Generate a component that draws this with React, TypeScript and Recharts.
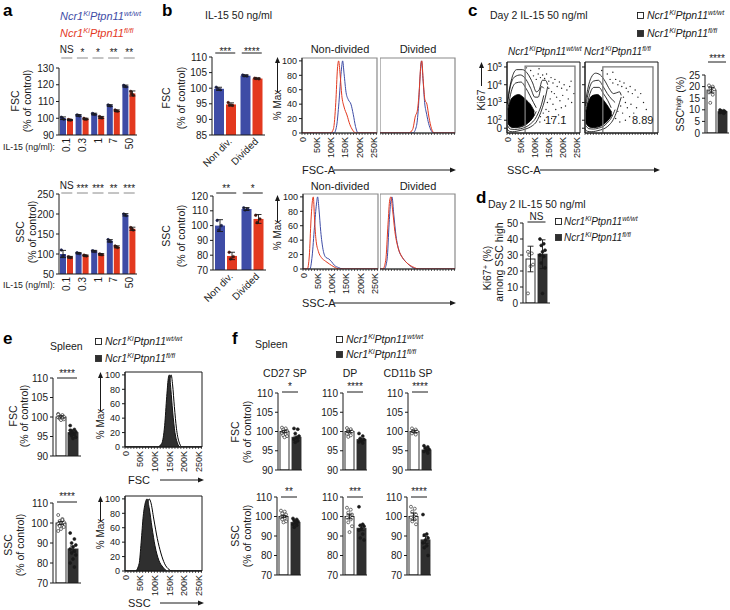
import React from 'react';
import { BarChart, Bar, XAxis, YAxis, ErrorBar, ComposedChart, Line, Area, Scatter, ReferenceArea } from 'recharts';

const FONT = '"Liberation Sans", Arial, Helvetica, sans-serif';
const BLUE = '#3e4ca6';
const RED = '#e3391f';
const DARK = '#2f2f2f';
const INK = '#1a1a1a';

// ---- a: IL-15 titration ----
const aConc = ['0.1', '0.3', '1', '7', '50'];
const aFscWt = [100, 101.7, 102.5, 107.6, 119.2];
const aFscFl = [99, 99.6, 100.5, 104.5, 114.8];
const aFscWtErr = [0.8, 0.5, 0.5, 0.5, 0.6];
const aFscFlErr = [0.3, 0.4, 0.6, 0.5, 1.5];
const aFscSig = ['NS', '*', '*', '**', '**'];
const aFscWtDots = [[100.6, 99.4, 100], [101.9, 101.4, 101.8], [102.8, 102.2, 102.5], [107.9, 107.3, 107.6], [119.6, 118.8, 119.1]];
const aFscFlDots = [[99.2, 98.9, 99], [99.9, 99.4, 99.5], [101, 100.2, 100.4], [104.9, 104.2, 104.4], [116, 113.8, 114.6]];
const aSscWt = [100, 102, 107, 133, 198];
const aSscFl = [92, 96, 99, 118, 163];
const aSscWtErr = [9, 1.5, 2, 3, 3];
const aSscFlErr = [2, 1.5, 2, 2.5, 4];
const aSscSig = ['NS', '***', '***', '**', '***'];
const aSscWtDots = [[110, 96, 94], [103, 101, 102], [108, 106, 107], [136, 131, 132], [200, 196, 198]];
const aSscFlDots = [[93, 91, 92], [97, 95, 96], [100, 98, 99], [120, 116, 118], [166, 160, 163]];

// ---- b: 50 ng/ml, non-divided vs divided ----
const bCats = ['Non div.', 'Divided'];
const bFscWt = [99.8, 104];
const bFscFl = [94.8, 103.1];
const bFscWtErr = [0.5, 0.3];
const bFscFlErr = [0.5, 0.2];
const bFscSig = ['***', '****'];
const bFscWtDots = [[100.3, 99.5, 99.7], [104.2, 103.9, 104]];
const bFscFlDots = [[95.4, 94.5, 94.6], [103.2, 103, 103.1]];
const bSscWt = [100, 111.2];
const bSscFl = [79.5, 104.5];
const bSscWtErr = [4, 1];
const bSscFlErr = [2.5, 3];
const bSscSig = ['**', '*'];
const bSscWtDots = [[103.5, 100, 97], [112, 111, 110.5]];
const bSscFlDots = [[82, 79, 77.5], [107, 104.5, 102]];

// histograms: [FSC/SSC-A in K, % max]
const bFscNdRed = [[0, 0], [100, 0], [110, 6], [118, 42], [124, 90], [128, 100], [133, 82], [139, 52], [147, 36], [157, 25], [167, 12], [177, 4], [188, 0], [262, 0]];
const bFscNdBlue = [[0, 0], [112, 0], [121, 10], [129, 42], [137, 85], [142, 100], [147, 82], [154, 56], [162, 46], [171, 40], [179, 26], [187, 9], [196, 0], [262, 0]];
const bFscDivRed = [[0, 0], [100, 0], [114, 5], [124, 24], [130, 30], [137, 58], [142, 92], [146, 100], [151, 72], [157, 46], [164, 40], [171, 22], [180, 6], [190, 0], [262, 0]];
const bFscDivBlue = [[0, 0], [115, 0], [127, 9], [134, 34], [140, 78], [145, 100], [150, 76], [156, 42], [163, 26], [170, 13], [178, 4], [188, 0], [262, 0]];
const bSscNdRed = [[0, 0], [15, 0], [22, 18], [28, 68], [33, 95], [36, 100], [40, 72], [45, 42], [54, 24], [64, 16], [78, 11], [92, 7], [108, 3], [128, 0], [262, 0]];
const bSscNdBlue = [[0, 0], [24, 0], [32, 18], [40, 58], [47, 90], [51, 100], [56, 82], [62, 52], [70, 27], [80, 16], [90, 14], [100, 10], [110, 5], [124, 2], [140, 0], [262, 0]];
const bSscDivRed = [[0, 0], [10, 0], [20, 12], [28, 62], [34, 96], [38, 100], [44, 82], [52, 52], [62, 31], [75, 18], [90, 10], [105, 5], [120, 2], [135, 0], [262, 0]];
const bSscDivBlue = [[0, 0], [15, 0], [25, 14], [32, 64], [38, 95], [42, 100], [48, 76], [56, 46], [66, 26], [80, 15], [95, 8], [110, 3], [130, 0], [262, 0]];

// ---- c: Ki67 vs SSC-A contours [SSC-A K, low decade, high decade] ----
const cWtOuter = [[0, 1.5, 2.9], [8, 1.38, 3.7], [20, 1.35, 4.5], [35, 1.38, 4.85], [55, 1.45, 4.85], [75, 1.55, 4.6], [92, 1.7, 4.1], [105, 1.9, 3.6], [115, 2.2, 3.7], [127, 2.7, 4.25], [138, 3.3, 4.25], [146, 3.9, 4.0]];
const cWtMid = [[2, 1.7, 2.9], [12, 1.5, 3.9], [28, 1.48, 4.45], [48, 1.52, 4.55], [68, 1.62, 4.3], [85, 1.8, 3.8], [100, 2.05, 3.3], [112, 2.4, 3.3], [124, 2.9, 3.9], [132, 3.4, 3.8]];
const cWtInner = [[5, 1.8, 2.8], [15, 1.6, 3.6], [32, 1.58, 4.1], [50, 1.62, 4.15], [68, 1.75, 3.8], [82, 1.95, 3.4], [95, 2.2, 3.0], [105, 2.5, 2.7]];
const cWtBlob = [[3, 1.85, 2.6], [12, 1.65, 3.1], [25, 1.6, 3.35], [42, 1.62, 3.45], [58, 1.7, 3.3], [72, 1.82, 3.1], [86, 2.0, 2.85], [98, 2.3, 2.5]];
const cFlOuter = [[0, 1.5, 2.8], [8, 1.38, 3.6], [22, 1.35, 4.4], [38, 1.38, 4.65], [55, 1.45, 4.55], [72, 1.55, 4.2], [88, 1.75, 3.75], [102, 2.05, 3.5], [114, 2.5, 3.55], [124, 3.0, 3.6], [130, 3.3, 3.4]];
const cFlMid = [[3, 1.7, 2.8], [14, 1.52, 3.7], [30, 1.5, 4.2], [48, 1.55, 4.25], [65, 1.65, 3.9], [80, 1.85, 3.5], [95, 2.15, 3.2], [108, 2.6, 3.0]];
const cFlInner = [[6, 1.8, 2.7], [16, 1.62, 3.4], [32, 1.58, 3.85], [50, 1.63, 3.85], [66, 1.76, 3.5], [82, 2.0, 3.1], [94, 2.3, 2.7]];
const cFlBlob = [[3, 1.85, 2.5], [14, 1.65, 3.1], [28, 1.6, 3.4], [45, 1.63, 3.45], [60, 1.72, 3.25], [75, 1.88, 2.95], [88, 2.1, 2.65], [96, 2.3, 2.45]];
const cWtEvents = [[95, 4.5], [105, 4.3], [112, 4.6], [120, 4.4], [128, 4.55], [135, 4.35], [142, 4.6], [150, 4.2], [158, 4.4], [165, 4.1], [172, 4.3], [180, 3.9], [188, 4.15], [196, 3.8], [205, 4.0], [215, 3.7], [225, 3.9], [150, 3.8], [160, 3.6], [170, 3.5], [155, 3.2], [165, 2.9], [178, 3.3], [190, 3.1], [200, 3.4], [210, 2.8], [220, 3.2], [232, 3.0], [145, 3.0], [140, 2.6], [130, 2.4], [120, 2.2], [150, 2.5], [175, 2.6], [185, 2.3], [195, 2.7], [118, 1.9], [135, 2.0], [160, 2.1], [205, 2.2], [85, 4.8], [70, 4.95], [115, 4.9], [240, 3.5], [230, 4.2]];
const cFlEvents = [[90, 4.3], [100, 4.1], [110, 4.3], [118, 4.0], [125, 4.2], [132, 3.9], [140, 4.1], [148, 3.8], [155, 3.6], [162, 3.9], [170, 3.5], [180, 3.7], [190, 3.3], [200, 3.5], [138, 3.3], [145, 3.0], [128, 2.8], [118, 2.5], [135, 2.4], [152, 2.7], [165, 2.9], [175, 2.4], [185, 2.7], [110, 2.1], [125, 1.9], [145, 2.0], [160, 2.2], [80, 4.6], [60, 4.8], [210, 3.0], [220, 2.6], [100, 4.7]];
const cWtGate = [[65, 1.28], [65, 5.05], [244, 5.05], [244, 1.28]];
const cFlGate = [[64, 1.28], [64, 5.0], [244, 5.0], [244, 1.28]];
const decTicks = [1.55, 2, 3, 4, 5];
const decLabels = ['0', '2', '3', '4', '5'];
const cHiCats = ['SSC high'];
const cHiWt = [18.5];
const cHiFl = [9.2];
const cHiWtErr = [1.2];
const cHiFlErr = [0.4];
const cHiSig = ['****'];
const cHiWtDots = [[20.5, 20, 19.5, 18.8, 18.3, 17.5, 16.5, 13]];
const cHiFlDots = [[9.9, 9.6, 9.5, 9.2, 9, 8.8, 8.5]];

// ---- d: Ki67+ among SSC high ----
const dWt = [27.5];
const dFl = [30.5];
const dWtErr = [8];
const dFlErr = [9];
const dSig = ['NS'];
const dWtDots = [[32, 31, 30, 24, 23, 6]];
const dFlDots = [[40, 37, 36, 33, 32, 30, 29, 25, 22, 6]];

// ---- e: spleen ----
const eFscWt = [100];
const eFscFl = [96];
const eFscWtErr = [0.3];
const eFscFlErr = [0.4];
const eFscSig = ['****'];
const eFscWtDots = [[100.8, 100.5, 100.3, 100.1, 100, 99.9, 99.8, 99.6, 99.4, 99.2, 100.6, 99.7]];
const eFscFlDots = [[97.8, 96.8, 96.5, 96.2, 96, 95.8, 95.5, 95.2, 94.8, 94.5, 96.6]];
const eSscWt = [100];
const eSscFl = [87];
const eSscWtErr = [0.8];
const eSscFlErr = [1.5];
const eSscSig = ['****'];
const eSscWtDots = [[104, 102, 101, 100.5, 100, 99.5, 99, 98.5, 98, 97, 96, 101.5]];
const eSscFlDots = [[95, 92, 90, 89, 88, 87, 86, 85, 84, 82, 80, 78]];
const eFscFlHist = [[0, 0], [110, 0], [125, 5], [135, 30], [142, 70], [148, 97], [151, 100], [156, 80], [162, 50], [170, 20], [178, 6], [188, 0], [262, 0]];
const eFscWtHist = [[0, 0], [115, 0], [130, 5], [140, 30], [147, 70], [153, 95], [157, 100], [162, 86], [168, 56], [175, 26], [183, 8], [195, 0], [262, 0]];
const eSscFlHist = [[0, 0], [35, 0], [48, 10], [55, 40], [62, 76], [70, 96], [75, 100], [82, 88], [92, 60], [102, 35], [115, 15], [130, 5], [145, 0], [262, 0]];
const eSscWtHist = [[0, 0], [40, 0], [52, 8], [60, 35], [68, 70], [76, 92], [82, 100], [88, 95], [98, 72], [110, 45], [122, 25], [135, 10], [150, 2], [160, 0], [262, 0]];

// ---- f: spleen subsets ----
const fSubsets = ['CD27 SP', 'DP', 'CD11b SP'];
const fFscWt = [100, 100, 100];
const fFscFl = [98.5, 97.9, 95.2];
const fFscErr = [0.3, 0.3, 0.3];
const fFscSig = ['*', '****', '****'];
const fFscWtDots = [[101, 100.8, 100.5, 100.2, 100, 99.6, 99.3, 99, 98.8, 98.5], [100.9, 100.6, 100.3, 100, 99.7, 99.4, 99, 98.6], [100.8, 100.5, 100.2, 100, 99.8, 99.5, 99.2]];
const fFscFlDots = [[100.8, 100.6, 99.5, 98.8, 98.4, 98, 97.6, 97.2], [99.5, 98.8, 98.2, 97.9, 97.6, 97.3, 97], [96.3, 96, 95.7, 95.4, 95.1, 94.8, 94.4]];
const fSscWt = [100, 100, 100];
const fSscFl = [97, 94, 88];
const fSscErr = [0.6, 1.2, 1.8];
const fSscSig = ['**', '***', '****'];
const fSscWtDots = [[103, 102.5, 101.5, 101, 100, 99.5, 99, 98.5, 97.5, 97], [104.5, 103.5, 102, 101, 100, 99.5, 98.5, 97, 95, 92], [105, 104, 102.5, 101, 100, 99.5, 98.5, 97.5, 96]];
const fSscFlDots = [[99, 98.5, 98, 97.5, 97, 96, 95.5, 94.5], [105, 96, 95.5, 95, 94, 93, 91, 89, 88], [101, 91, 90.5, 89, 88, 86.5, 85, 84, 80]];

const histTicks = [0, 10, 20, 30, 40, 50, 60, 70, 80, 90, 100, 110, 120, 130, 140, 150, 160, 170, 180, 190, 200, 210, 220, 230, 240, 250, 260];
const pctTicks = [0, 20, 40, 60, 80, 100];

const pts = (a: number[][]) => a.map(([x, y]) => ({ x, y }));
const rng = (a: number[][]) => a.map(([x, lo, hi]) => ({ x, r: [lo, hi] }));

function groupsOf(cats: string[], wt: number[], fl: number[], wtErr: number[], flErr: number[], sig: string[], wtDots: number[][], flDots: number[][]) {
  return cats.map((c, i) => ({ c, wt: wt[i], fl: fl[i], wtErr: wtErr[i], flErr: flErr[i], sig: sig[i], wtDots: wtDots[i], flDots: flDots[i] }));
}

const DotBar = (s: any) => {
  const { x, y, width, height, barFill, barStroke, val, min, dots, dotFill, dotStroke, r } = s;
  if (!width || height == null) return null;
  const ppu = val > min ? height / (val - min) : 0;
  const cx = x + width / 2;
  return (
    <g>
      <rect x={x} y={y} width={width} height={height} fill={barFill} stroke={barStroke} strokeWidth={barStroke === 'none' ? 0 : 0.9} />
      {dots.map((d: number, i: number) => {
        const off = (((i * 3) % 5) - 2) * width * 0.14;
        return <circle key={i} cx={cx + off} cy={y + (val - d) * ppu} r={r} fill={dotFill} stroke={dotStroke} strokeWidth={0.6} />;
      })}
    </g>
  );
};

function BarPanel(p: any) {
  const yW = 30, topH = 26, rm = 4;
  const botH = p.botH ?? 8;
  const lineOff = p.lineOff ?? 1;
  const textOff = p.textOff ?? 2;
  const sigW = p.sigW ?? 16;
  const min = p.domain[0];
  const data = p.groups;
  const sigTick = (t: any) => {
    const g = data.find((d: any) => d.c === t.payload.value);
    if (!g || !g.sig) return <g />;
    const ly = t.y - lineOff;
    return (
      <g>
        <line x1={t.x - sigW / 2} x2={t.x + sigW / 2} y1={ly} y2={ly} stroke={p.sigColor ?? INK} strokeWidth={1} />
        <text x={t.x} y={t.y - textOff - (g.sig === 'NS' ? 3 : 0)} textAnchor="middle" fontSize={10} fill={INK}>{g.sig}</text>
      </g>
    );
  };
  let xTick: any = false;
  if (p.xLabels === 'rot90') {
    xTick = (t: any) => (
      <text x={t.x} y={t.y} dy={3.5} textAnchor="end" fontSize={10} fill={INK} transform={`rotate(-90 ${t.x} ${t.y})`}>{t.payload.value}</text>
    );
  } else if (p.xLabels === 'rot45') {
    xTick = (t: any) => (
      <text x={t.x + 5} y={t.y + 2} dy={3} textAnchor="end" fontSize={10} fill={INK} transform={`rotate(-45 ${t.x + 5} ${t.y + 2})`}>{t.payload.value}</text>
    );
  }
  const wtStroke = p.wtStroke ?? 'none';
  const flStroke = p.flStroke ?? 'none';
  return (
    <div style={{ position: 'absolute', left: p.left - yW, top: p.top - topH }}>
      <BarChart width={yW + p.pw + rm} height={topH + p.ph + botH} data={data} margin={{ top: 0, right: rm, bottom: 0, left: 0 }} barGap={p.barGap} barCategoryGap={0}>
        <XAxis dataKey="c" type="category" height={botH} axisLine={{ stroke: INK }} tickLine={false} tickSize={0} tickMargin={3} interval={0} tick={xTick} />
        <XAxis xAxisId="sig" dataKey="c" type="category" orientation="top" height={topH} axisLine={false} tickLine={false} tickSize={0} tickMargin={0} interval={0} tick={sigTick} />
        <YAxis type="number" domain={p.domain} ticks={p.ticks} interval={0} allowDataOverflow width={yW} tickSize={3} tickMargin={2} axisLine={{ stroke: INK }} tickLine={{ stroke: INK }} tick={{ fontSize: 10, fill: INK }} />
        <Bar dataKey="wt" barSize={p.barSize} fill={p.wtFill} isAnimationActive={false}
          shape={(s: any) => <DotBar {...s} barFill={p.wtFill} barStroke={wtStroke} val={s.payload.wt} min={min} dots={s.payload.wtDots} dotFill={p.wtDot[0]} dotStroke={p.wtDot[1]} r={p.r ?? 1.5} />}>
          <ErrorBar dataKey="wtErr" width={3} stroke={INK} strokeWidth={0.9} />
        </Bar>
        <Bar dataKey="fl" barSize={p.barSize} fill={p.flFill} isAnimationActive={false}
          shape={(s: any) => <DotBar {...s} barFill={p.flFill} barStroke={flStroke} val={s.payload.fl} min={min} dots={s.payload.flDots} dotFill={p.flDot[0]} dotStroke={p.flDot[1]} r={p.r ?? 1.5} />}>
          <ErrorBar dataKey="flErr" width={3} stroke={INK} strokeWidth={0.9} />
        </Bar>
      </BarChart>
    </div>
  );
}

const kTick = (t: any) => {
  const v = t.payload.value;
  if (v % 50 !== 0) return <g />;
  const lab = v === 0 ? '0' : `${v}K`;
  return <text x={t.x} y={t.y} dy={3.5} textAnchor="end" fontSize={9} fill={INK} transform={`rotate(-90 ${t.x} ${t.y})`}>{lab}</text>;
};
const emptyTick = () => <g />;

function HistPanel(p: any) {
  const yLabels = p.yLabels ?? true;
  const xLabels = p.xLabels ?? true;
  const yW = yLabels ? 24 : 0;
  const botH = xLabels ? 30 : 4;
  return (
    <div style={{ position: 'absolute', left: p.left - yW, top: p.top - 6 }}>
      <ComposedChart width={yW + p.pw + 3} height={6 + p.ph + botH} margin={{ top: 6, right: 3, bottom: 0, left: 0 }}>
        <XAxis type="number" dataKey="x" domain={[0, 262]} ticks={histTicks} interval={0} allowDataOverflow height={botH}
          tickSize={2} tickMargin={2} axisLine={{ stroke: INK }} tickLine={{ stroke: INK, strokeWidth: 0.7 }} tick={xLabels ? kTick : emptyTick} />
        <YAxis type="number" dataKey="y" domain={[0, 104]} ticks={pctTicks} interval={0} allowDataOverflow width={yW} hide={!yLabels}
          tickSize={3} tickMargin={2} axisLine={{ stroke: INK }} tickLine={{ stroke: INK }} tick={{ fontSize: 9, fill: INK }} />
        {(p.areas || []).map((a: any, i: number) => (
          <Area key={'a' + i} data={pts(a.data)} dataKey="y" type="monotone" fill={a.fill} fillOpacity={1} stroke={a.stroke} strokeWidth={1} dot={false} activeDot={false} isAnimationActive={false} />
        ))}
        {(p.lines || []).map((l: any, i: number) => (
          <Line key={'l' + i} data={pts(l.data)} dataKey="y" type="monotone" stroke={l.stroke} strokeWidth={1} dot={false} activeDot={false} isAnimationActive={false} />
        ))}
        <ReferenceArea x1={0} x2={262} y1={0} y2={104} fill="none" stroke={p.box ?? '#8a8a8a'} strokeWidth={p.boxW ?? 1.2} />
      </ComposedChart>
    </div>
  );
}

const decTick = (t: any) => {
  const i = decTicks.indexOf(t.payload.value);
  const lab = decLabels[i];
  if (lab === '0') return <text x={t.x} y={t.y} dy={3.5} textAnchor="end" fontSize={10} fill={INK}>0</text>;
  return (
    <text x={t.x} y={t.y} dy={4} textAnchor="end" fontSize={10} fill={INK}>
      10<tspan dy={-4} fontSize={7}>{lab}</tspan>
    </text>
  );
};

function ContourPanel(p: any) {
  const yW = p.yLabels ? 26 : 4;
  const botH = p.xLabels ? 30 : 4;
  return (
    <div style={{ position: 'absolute', left: p.left - yW, top: p.top - 6 }}>
      <ComposedChart width={yW + p.pw + 3} height={6 + p.ph + botH} margin={{ top: 6, right: 3, bottom: 0, left: 0 }}>
        <XAxis type="number" dataKey="x" domain={[0, 262]} ticks={histTicks} interval={0} allowDataOverflow height={botH}
          tickSize={2} tickMargin={2} axisLine={{ stroke: INK }} tickLine={{ stroke: INK, strokeWidth: 0.7 }} tick={p.xLabels ? kTick : emptyTick} />
        <YAxis type="number" dataKey="y" domain={[1.28, 5.28]} ticks={decTicks} interval={0} allowDataOverflow width={yW}
          tickSize={3} tickMargin={2} axisLine={{ stroke: INK }} tickLine={{ stroke: INK }} tick={p.yLabels ? decTick : emptyTick} />
        <Scatter data={pts(p.events)} fill="#000" isAnimationActive={false} shape={(s: any) => <circle cx={s.cx} cy={s.cy} r={0.7} fill="#222" />} />
        {p.outlines.map((o: number[][], i: number) => (
          <Area key={'o' + i} data={rng(o)} dataKey="r" type="monotone" fill="none" stroke="#000" strokeWidth={0.8} dot={false} activeDot={false} isAnimationActive={false} />
        ))}
        <Area data={rng(p.blob)} dataKey="r" type="monotone" fill="#000" fillOpacity={1} stroke="#000" strokeWidth={0.8} dot={false} activeDot={false} isAnimationActive={false} />
        <Line data={pts(p.gate)} dataKey="y" type="linear" stroke="#7a7a7a" strokeWidth={1.3} dot={false} activeDot={false} isAnimationActive={false} />
        <ReferenceArea x1={0} x2={262} y1={1.28} y2={5.28} fill="none" stroke={INK} strokeWidth={1} />
      </ComposedChart>
    </div>
  );
}

const VText = ({ x, y, size = 10.5, children }: any) => (
  <text x={x} y={y} fontSize={size} textAnchor="middle" fill={INK} transform={`rotate(-90 ${x} ${y})`}>{children}</text>
);

const Geno = ({ x, y, sup, size = 10.5, fill = INK }: any) => (
  <text x={x} y={y} fontSize={size} fontStyle="italic" fill={fill}>
    Ncr1<tspan dy={-size * 0.38} fontSize={size * 0.68}>Ki</tspan><tspan dy={size * 0.38} fontSize={size}>Ptpn11</tspan><tspan dy={-size * 0.38} fontSize={size * 0.68}>{sup}</tspan>
  </text>
);

const UpArrow = ({ x, y1, y2 }: any) => (
  <g>
    <line x1={x} x2={x} y1={y1} y2={y2 + 4} stroke={INK} strokeWidth={1} />
    <polygon points={`${x - 2.5},${y2 + 6} ${x + 2.5},${y2 + 6} ${x},${y2}`} fill={INK} />
  </g>
);

const RightArrow = ({ y, x1, x2 }: any) => (
  <g>
    <line x1={x1} x2={x2 - 4} y1={y} y2={y} stroke={INK} strokeWidth={1} />
    <polygon points={`${x2 - 6},${y - 2.5} ${x2 - 6},${y + 2.5} ${x2},${y}`} fill={INK} />
  </g>
);

const Letter = ({ x, y, c }: any) => <text x={x} y={y} fontSize={17} fontWeight="bold" fill="#000">{c}</text>;

export default function App() {
  const aFsc = groupsOf(aConc, aFscWt, aFscFl, aFscWtErr, aFscFlErr, aFscSig, aFscWtDots, aFscFlDots);
  const aSsc = groupsOf(aConc, aSscWt, aSscFl, aSscWtErr, aSscFlErr, aSscSig, aSscWtDots, aSscFlDots);
  const bFsc = groupsOf(bCats, bFscWt, bFscFl, bFscWtErr, bFscFlErr, bFscSig, bFscWtDots, bFscFlDots);
  const bSsc = groupsOf(bCats, bSscWt, bSscFl, bSscWtErr, bSscFlErr, bSscSig, bSscWtDots, bSscFlDots);
  const cHi = groupsOf(cHiCats, cHiWt, cHiFl, cHiWtErr, cHiFlErr, cHiSig, cHiWtDots, cHiFlDots);
  const dKi = groupsOf(['Ki67'], dWt, dFl, dWtErr, dFlErr, dSig, dWtDots, dFlDots);
  const eFsc = groupsOf(['FSC'], eFscWt, eFscFl, eFscWtErr, eFscFlErr, eFscSig, eFscWtDots, eFscFlDots);
  const eSsc = groupsOf(['SSC'], eSscWt, eSscFl, eSscWtErr, eSscFlErr, eSscSig, eSscWtDots, eSscFlDots);

  const bw = { wtFill: '#ffffff', wtStroke: INK, flFill: DARK, flStroke: DARK, wtDot: ['#ffffff', INK], flDot: [INK, INK], r: 1.5 };
  const colored = { wtFill: BLUE, flFill: RED, wtDot: ['#1c2250', '#1c2250'], flDot: ['#4d150c', '#4d150c'], r: 1.3 };
  const fFscLefts = [278, 343, 408];
  const fSscLefts = [277, 343, 407];

  return (
    <div style={{ position: 'absolute', left: 0, top: 0, width: 730, height: 610, background: '#fff', fontFamily: FONT, overflow: 'hidden' }}>
      {/* a */}
      <BarPanel left={59} top={68} pw={78} ph={67} domain={[90, 130]} ticks={[90, 100, 110, 120, 130]} groups={aFsc} barSize={6} barGap={1}
        {...colored} xLabels="rot90" botH={26} lineOff={10} textOff={12} sigW={11} sigColor="#8a8a8a" />
      <BarPanel left={59} top={194} pw={78} ph={80} domain={[50, 250]} ticks={[50, 100, 150, 200, 250]} groups={aSsc} barSize={6} barGap={1}
        {...colored} xLabels="rot90" botH={26} lineOff={1} textOff={2} sigW={11} sigColor="#8a8a8a" />

      {/* b */}
      <BarPanel left={212} top={57} pw={53} ph={78} domain={[85, 110]} ticks={[85, 90, 95, 100, 105, 110]} groups={bFsc} barSize={10} barGap={2}
        {...colored} xLabels="rot45" botH={44} lineOff={4} textOff={2} sigW={20} />
      <BarPanel left={213} top={196} pw={53} ph={74} domain={[70, 120]} ticks={[70, 80, 90, 100, 110, 120]} groups={bSsc} barSize={10} barGap={2}
        {...colored} xLabels="rot45" botH={44} lineOff={3} textOff={4} sigW={20} />
      <HistPanel left={302} top={58} pw={75} ph={75} lines={[{ data: bFscNdBlue, stroke: BLUE }, { data: bFscNdRed, stroke: RED }]} />
      <HistPanel left={380} top={58} pw={75} ph={75} yLabels={false} xLabels={false} lines={[{ data: bFscDivBlue, stroke: BLUE }, { data: bFscDivRed, stroke: RED }]} />
      <HistPanel left={303} top={194} pw={75} ph={75} lines={[{ data: bSscNdBlue, stroke: BLUE }, { data: bSscNdRed, stroke: RED }]} />
      <HistPanel left={380} top={194} pw={75} ph={75} yLabels={false} xLabels={false} lines={[{ data: bSscDivBlue, stroke: BLUE }, { data: bSscDivRed, stroke: RED }]} />

      {/* c */}
      <ContourPanel left={507} top={62} pw={73} ph={71} yLabels xLabels outlines={[cWtOuter, cWtMid, cWtInner]} blob={cWtBlob} events={cWtEvents} gate={cWtGate} />
      <ContourPanel left={585} top={62} pw={73} ph={71} yLabels={false} xLabels={false} outlines={[cFlOuter, cFlMid, cFlInner]} blob={cFlBlob} events={cFlEvents} gate={cFlGate} />
      <BarPanel left={705} top={75} pw={24} ph={58} domain={[0, 25]} ticks={[0, 5, 10, 15, 20, 25]} groups={cHi} barSize={9} barGap={2}
        {...bw} lineOff={13} textOff={13} sigW={18} />

      {/* d */}
      <BarPanel left={523} top={223} pw={27} ph={80} domain={[0, 50]} ticks={[0, 10, 20, 30, 40, 50]} groups={dKi} barSize={9} barGap={3}
        {...bw} lineOff={1} textOff={0} sigW={18} />

      {/* e */}
      <BarPanel left={53} top={378} pw={28} ph={78} domain={[90, 110]} ticks={[90, 95, 100, 105, 110]} groups={eFsc} barSize={10} barGap={2}
        {...bw} lineOff={0} textOff={1} sigW={20} />
      <BarPanel left={53} top={503} pw={28} ph={80} domain={[70, 110]} ticks={[70, 80, 90, 100, 110]} groups={eSsc} barSize={10} barGap={2}
        {...bw} lineOff={1} textOff={3} sigW={20} />
      <HistPanel left={125} top={372} pw={77} ph={75} box={INK} boxW={1}
        areas={[{ data: eFscWtHist, fill: '#ffffff', stroke: '#000' }, { data: eFscFlHist, fill: DARK, stroke: '#111' }]} />
      <HistPanel left={125} top={496} pw={77} ph={75} box={INK} boxW={1}
        areas={[{ data: eSscWtHist, fill: '#ffffff', stroke: '#000' }, { data: eSscFlHist, fill: DARK, stroke: '#111' }]} />

      {/* f */}
      {fSubsets.map((s, i) => (
        <BarPanel key={'ff' + s} left={fFscLefts[i]} top={393} pw={24} ph={77} domain={[90, 110]} ticks={[90, 95, 100, 105, 110]}
          groups={groupsOf([s], [fFscWt[i]], [fFscFl[i]], [fFscErr[i]], [fFscErr[i]], [fFscSig[i]], [fFscWtDots[i]], [fFscFlDots[i]])}
          barSize={9} barGap={3} {...bw} lineOff={1} textOff={3} sigW={16} />
      ))}
      {fSubsets.map((s, i) => (
        <BarPanel key={'fs' + s} left={fSscLefts[i]} top={497} pw={24} ph={78} domain={[70, 110]} ticks={[70, 80, 90, 100, 110]}
          groups={groupsOf([s], [fSscWt[i]], [fSscFl[i]], [fSscErr[i]], [fSscErr[i]], [fSscSig[i]], [fSscWtDots[i]], [fSscFlDots[i]])}
          barSize={9} barGap={3} {...bw} lineOff={0} textOff={2} sigW={16} />
      ))}

      <svg width={730} height={610} style={{ position: 'absolute', left: 0, top: 0, pointerEvents: 'none' }} fontFamily={FONT}>
        {/* a */}
        <Letter x={3} y={16} c="a" />
        <Geno x={60} y={20} sup="wt/wt" size={11} fill={BLUE} />
        <Geno x={60} y={37} sup="fl/fl" size={11} fill={RED} />
        <VText x={19} y={101}>FSC</VText>
        <VText x={31} y={101}>(% of control)</VText>
        <VText x={24} y={232}>SSC</VText>
        <VText x={36} y={232}>(% of control)</VText>
        <text x={55} y={150} fontSize={9.5} textAnchor="end" fill={INK} textLength={52} lengthAdjust="spacingAndGlyphs">IL-15 (ng/ml):</text>
        <text x={55} y={288} fontSize={9.5} textAnchor="end" fill={INK} textLength={52} lengthAdjust="spacingAndGlyphs">IL-15 (ng/ml):</text>

        {/* b */}
        <Letter x={162} y={16} c="b" />
        <text x={205} y={19} fontSize={10.5} fill={INK}>IL-15 50 ng/ml</text>
        <VText x={170} y={98}>FSC</VText>
        <VText x={185} y={98}>(% of control)</VText>
        <VText x={170} y={236}>SSC</VText>
        <VText x={185} y={236}>(% of control)</VText>
        <text x={340} y={53} fontSize={11} textAnchor="middle" fill={INK}>Non-divided</text>
        <text x={418} y={53} fontSize={11} textAnchor="middle" fill={INK}>Divided</text>
        <text x={340} y={190} fontSize={11} textAnchor="middle" fill={INK}>Non-divided</text>
        <text x={418} y={190} fontSize={11} textAnchor="middle" fill={INK}>Divided</text>
        <VText x={281} y={105} size={10}>% Max</VText>
        <UpArrow x={277.5} y1={92} y2={57} />
        <VText x={281} y={235} size={10}>% Max</VText>
        <UpArrow x={277.5} y1={222} y2={195} />
        <text x={302} y={174} fontSize={11} fill={INK}>FSC-A</text>
        <RightArrow y={170} x1={334} x2={456} />
        <text x={302} y={307} fontSize={11} fill={INK}>SSC-A</text>
        <RightArrow y={303} x1={334} x2={456} />

        {/* c */}
        <Letter x={468} y={16} c="c" />
        <text x={490} y={19} fontSize={10.5} fill={INK}>Day 2 IL-15 50 ng/ml</text>
        <rect x={637.5} y={12.5} width={6} height={6} fill="#fff" stroke={INK} strokeWidth={0.9} />
        <Geno x={647} y={19} sup="wt/wt" size={10.5} />
        <rect x={637.5} y={30.5} width={6} height={6} fill={DARK} stroke={DARK} strokeWidth={0.9} />
        <Geno x={647} y={37} sup="fl/fl" size={10.5} />
        <Geno x={508} y={55} sup="wt/wt" size={10} />
        <Geno x={584} y={55} sup="fl/fl" size={10} />
        <VText x={485} y={100}>Ki67</VText>
        <UpArrow x={481.5} y1={86} y2={62} />
        <text x={545} y={124} fontSize={11} fill={INK}>17.1</text>
        <text x={632} y={124} fontSize={11} fill={INK}>8.89</text>
        <text x={507} y={174} fontSize={11} fill={INK}>SSC-A</text>
        <RightArrow y={170} x1={540} x2={660} />
        <text x={684} y={104} fontSize={10.5} textAnchor="middle" fill={INK} transform="rotate(-90 684 104)">
          SSC<tspan dy={-3.5} fontSize={7.5}>high</tspan><tspan dy={3.5} fontSize={10.5}> (%)</tspan>
        </text>

        {/* d */}
        <Letter x={476} y={203} c="d" />
        <text x={488} y={208} fontSize={10.5} fill={INK}>Day 2 IL-15 50 ng/ml</text>
        <rect x={555.5} y={218.5} width={6} height={6} fill="#fff" stroke={INK} strokeWidth={0.9} />
        <Geno x={564} y={225} sup="wt/wt" size={10} />
        <rect x={555.5} y={234.5} width={6} height={6} fill={DARK} stroke={DARK} strokeWidth={0.9} />
        <Geno x={564} y={241} sup="fl/fl" size={10} />
        <text x={491} y={268} fontSize={10.5} textAnchor="middle" fill={INK} transform="rotate(-90 491 268)">
          Ki67<tspan dy={-3.5} fontSize={7.5}>+</tspan><tspan dy={3.5} fontSize={10.5}> (%)</tspan>
        </text>
        <VText x={503} y={262}>among SSC high</VText>

        {/* e */}
        <Letter x={3} y={344} c="e" />
        <text x={50} y={350} fontSize={10.5} fill={INK}>Spleen</text>
        <rect x={95.5} y={338.5} width={6} height={6} fill="#fff" stroke={INK} strokeWidth={0.9} />
        <Geno x={105} y={345} sup="wt/wt" size={10.5} />
        <rect x={95.5} y={355.5} width={6} height={6} fill={DARK} stroke={DARK} strokeWidth={0.9} />
        <Geno x={105} y={362} sup="fl/fl" size={10.5} />
        <VText x={17} y={416}>FSC</VText>
        <VText x={28} y={416}>(% of control)</VText>
        <VText x={12} y={545}>SSC</VText>
        <VText x={24} y={545}>(% of control)</VText>
        <VText x={104} y={424} size={10}>% Max</VText>
        <UpArrow x={100.5} y1={411} y2={372} />
        <VText x={104} y={534} size={10}>% Max</VText>
        <UpArrow x={100.5} y1={521} y2={496} />
        <text x={128} y={484} fontSize={11} fill={INK}>FSC</text>
        <RightArrow y={480} x1={160} x2={204} />
        <text x={128} y={607} fontSize={11} fill={INK}>SSC</text>
        <RightArrow y={603} x1={160} x2={204} />

        {/* f */}
        <Letter x={232} y={344} c="f" />
        <text x={255} y={348} fontSize={10.5} fill={INK}>Spleen</text>
        <rect x={336.5} y={336.5} width={6} height={6} fill="#fff" stroke={INK} strokeWidth={0.9} />
        <Geno x={346} y={343} sup="wt/wt" size={10.5} />
        <rect x={336.5} y={351.5} width={6} height={6} fill={DARK} stroke={DARK} strokeWidth={0.9} />
        <Geno x={346} y={358} sup="fl/fl" size={10.5} />
        <text x={285} y={377} fontSize={10.5} textAnchor="middle" fill={INK}>{fSubsets[0]}</text>
        <text x={350} y={377} fontSize={10.5} textAnchor="middle" fill={INK}>{fSubsets[1]}</text>
        <text x={408} y={377} fontSize={10.5} textAnchor="middle" fill={INK}>{fSubsets[2]}</text>
        <VText x={239} y={432}>FSC</VText>
        <VText x={251} y={432}>(% of control)</VText>
        <VText x={239} y={536}>SSC</VText>
        <VText x={251} y={536}>(% of control)</VText>
      </svg>
    </div>
  );
}
